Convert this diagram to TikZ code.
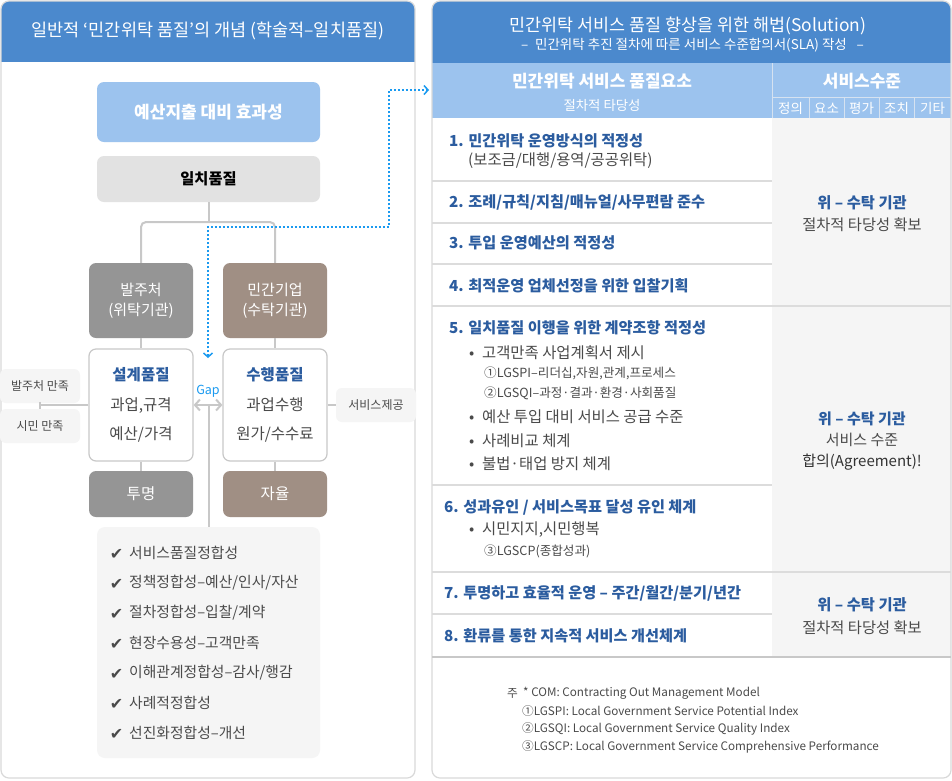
\documentclass[tikz,border=0pt]{standalone}
\usepackage{fontspec}
\setmainfont{Noto Sans CJK KR}
\newfontfamily\dejavu{DejaVu Sans}
\usetikzlibrary{arrows.meta}
\definecolor{hdrblue}{HTML}{4B89CD}
\definecolor{ltblue}{HTML}{9CC3EE}
\definecolor{dkblue}{HTML}{2B5C9F}
\definecolor{gapblue}{HTML}{1A9AF0}
\definecolor{boxgray}{HTML}{959595}
\definecolor{boxbrown}{HTML}{A08F84}
\definecolor{matchgray}{HTML}{E2E2E2}
\definecolor{paleg}{HTML}{F5F5F5}
\definecolor{connc}{HTML}{C8C8C8}
\definecolor{borderc}{HTML}{D9D9D9}
\definecolor{rowc}{HTML}{DCDCDC}
\definecolor{txtc}{HTML}{4A4A4A}
\definecolor{hline}{HTML}{D6E2F0}
\newcommand\fs[2]{\fontsize{#1}{#2}\selectfont}
\begin{document}
\begin{tikzpicture}[x=1pt,y=-1pt,
  box/.style={rounded corners=7, minimum width=104, inner sep=0, align=center},
  conn/.style={draw=connc, line width=2},
  dotc/.style={draw=gapblue, line width=2, dash pattern=on 2pt off 2pt},
  lbl/.style={fill=paleg, rounded corners=6, minimum width=80, minimum height=34, inner sep=0, font=\fs{12}{14}, text=txtc},
  li/.style={anchor=west, inner sep=0, font=\fs{14.8}{17}, text=txtc},
  chk/.style={inner sep=0, font=\dejavu\bfseries\fs{16}{18}, text=txtc},
  hd/.style={anchor=west, inner sep=0, font=\fs{15.2}{18}\bfseries, text=dkblue},
  bt/.style={anchor=west, inner sep=0, font=\fs{15.4}{18}, text=txtc},
  sm/.style={anchor=west, inner sep=0, font=\fs{12.6}{15}, text=txtc},
  gc/.style={inner sep=0, align=center, font=\fs{15.3}{22.5}, text=txtc},
  rowline/.style={draw=rowc, line width=1.2},
  hl/.style={draw=hline, line width=1},
  fn/.style={anchor=west, inner sep=0, font=\fs{11.7}{14}, text=txtc}
]
\useasboundingbox (0,0) rectangle (952,780);
\fill[white] (0,0) rectangle (952,780);

% ---------- left panel ----------
\begin{scope}
\clip[rounded corners=8] (1,1) rectangle (415,778);
\fill[hdrblue] (1,1) rectangle (415,62);
\end{scope}
\draw[draw=borderc, line width=1.2, rounded corners=8] (1,1) rectangle (415,778);
\node[text=white, font=\fs{17.5}{20}, inner sep=0] (lhdr) at (208,31) {일반적 ‘민간위탁 품질’의 개념 (학술적–일치품질)};

\node[box, fill=ltblue, minimum width=223, minimum height=60, font=\fs{17}{20}\bfseries, text=white] (eff) at (208.5,112) {예산지출 대비 효과성};
\node[box, fill=matchgray, minimum width=223, minimum height=46, font=\fs{15.3}{18}\bfseries, text=black] (match) at (208.5,179) {일치품질};

\node[box, fill=boxgray, minimum height=75, font=\fs{15}{20}, text=white] (client) at (141,300.5) {발주처\\(위탁기관)};
\node[box, fill=boxbrown, minimum height=75, font=\fs{15}{20}, text=white] (firm) at (275,300.5) {민간기업\\(수탁기관)};

\node[box, fill=white, draw=connc, line width=1.2, minimum height=112, font=\fs{15.5}{29.5}, text=txtc] (design) at (141,405) {{\color{dkblue}\bfseries 설계품질}\\과업,규격\\예산/가격};
\node[box, fill=white, draw=connc, line width=1.2, minimum height=112, font=\fs{15.5}{29.5}, text=txtc] (perform) at (275,405) {{\color{dkblue}\bfseries 수행품질}\\과업수행\\원가/수수료};

\node[box, fill=boxgray, minimum height=46, font=\fs{15.5}{18}, text=white] (trans) at (141,494) {투명};
\node[box, fill=boxbrown, minimum height=46, font=\fs{15.5}{18}, text=white] (auto) at (275,494) {자율};

\node[lbl] (sat1) at (40,386) {발주처 만족};
\node[lbl] (sat2) at (40,426) {시민 만족};
\node[lbl] (svc) at (376,405) {서비스제공};

\node[inner sep=0, font=\fs{12.5}{14}, text=gapblue] (gap) at (208,391) {Gap};

\node[fill=paleg, rounded corners=8, minimum width=223, minimum height=231, inner sep=0] (list) at (208.5,642.5) {};

% connectors
\coordinate (brk) at (208.5,222);
\coordinate (tick) at (40,405);
\coordinate (gapmid) at (208.5,405);
\draw[conn] (match.south) -- (brk);
\draw[conn, rounded corners=5] (client.north) -- (client.north |- brk) -- (firm.north |- brk) -- (firm.north);
\draw[conn] (client.south) -- (design.north);
\draw[conn] (design.south) -- (trans.north);
\draw[conn] (firm.south) -- (perform.north);
\draw[conn] (perform.south) -- (auto.north);
\draw[conn] (design.west) -- (tick);
\draw[conn] (tick) ++(0,-3.5) -- ++(0,7);
\draw[conn] (perform.east) -- (svc.west);
\draw[conn, {Straight Barb[length=5,width=11]}-{Straight Barb[length=5,width=11]}] (design.east) -- (perform.west);
\draw[conn] (gapmid) -- (list.north);

% dotted link
\coordinate (dotA) at (208,358);
\coordinate (dotB) at (429,90);
\coordinate (dotC) at (389,227);
\draw[dotc, {Straight Barb[length=4,width=9,line width=1.5]}-{Straight Barb[length=4,width=9,line width=1.5]}] (dotA) -- (dotA |- dotC) -- (dotC) -- (dotC |- dotB) -- (dotB);

% checklist
\foreach \t [count=\i] in {서비스품질정합성, 정책정합성–예산/인사/자산, 절차정합성–입찰/계약, 현장수용성–고객만족, 이해관계정합성–감사/행감, 사례적정합성, 선진화정합성–개선} {
  \node[chk] (chk\i) at (116.5,524+30*\i) {✔};
  \node[li] (li\i) at (129,523+30*\i) {\t};
}

% ---------- right panel ----------
\begin{scope}
\clip[rounded corners=8] (432,1) rectangle (951,778);
\fill[hdrblue] (432,1) rectangle (951,63);
\fill[ltblue] (432,63) rectangle (951,118);
\fill[paleg] (772,118) rectangle (951,657);
\end{scope}
\draw[hl] (772,63) -- (772,118);
\draw[hl] (772,97) -- (951,97);
\foreach \xx in {809,844,879,914} { \draw[hl] (\xx,97) -- (\xx,118); }
\draw[draw=borderc, line width=1.2, rounded corners=8] (432,1) rectangle (951,778);

\node[text=white, font=\fs{17.4}{20}, inner sep=0] (rhdr) at (688,26) {민간위탁 서비스 품질 향상을 위한 해법(Solution)};
\node[text=white, font=\fs{13.5}{16}, inner sep=0] (rsub) at (692.5,45) {–\enspace 민간위탁 추진 절차에 따른 서비스 수준합의서(SLA) 작성 \enspace–};

\node[text=white, font=\fs{17}{20}\bfseries, inner sep=0] (qel) at (602,81) {민간위탁 서비스 품질요소};
\node[text=white, font=\fs{13.4}{16}, inner sep=0] (qsub) at (602,105) {절차적 타당성};
\node[text=white, font=\fs{17}{20}\bfseries, inner sep=0] (slv) at (862,81) {서비스수준};
\foreach \t/\xx [count=\i] in {정의/790.5, 요소/826.5, 평가/861.5, 조치/896.5, 기타/932.5} {
  \node[text=white, font=\fs{13.5}{16}, inner sep=0] (sc\i) at (\xx,108) {\t};
}

% row lines
\draw[rowline] (432,181) -- (772,181);
\draw[rowline] (432,223) -- (772,223);
\draw[rowline] (432,264) -- (772,264);
\draw[rowline] (432,306) -- (951,306);
\draw[rowline] (432,485) -- (772,485);
\draw[rowline] (432,572) -- (951,572);
\draw[rowline] (432,614) -- (772,614);
\draw[draw=connc, line width=2] (432,657) -- (951,657);

% items
\node[hd] (h1) at (449,141) {1. 민간위탁 운영방식의 적정성};
\node[bt] (h1b) at (468,161) {(보조금/대행/용역/공공위탁)};
\node[hd] (h2) at (449,202) {2. 조례/규칙/지침/매뉴얼/사무편람 준수};
\node[hd] (h3) at (449,243) {3. 투입 운영예산의 적정성};
\node[hd] (h4) at (449,286) {4. 최적운영 업체선정을 위한 입찰기획};
\node[hd] (h5) at (449,328) {5. 일치품질 이행을 위한 계약조항 적정성};
\node[bt] (b51) at (469,353) {•\enspace 고객만족 사업계획서 제시};
\node[sm] (b51a) at (484,373) {①LGSPI–리더십,자원,관계,프로세스};
\node[sm] (b51b) at (484,393) {②LGSQI–과정·결과·환경·사회품질};
\node[bt] (b52) at (469,417) {•\enspace 예산 투입 대비 서비스 공급 수준};
\node[bt] (b53) at (469,441) {•\enspace 사례비교 체계};
\node[bt] (b54) at (469,464) {•\enspace 불법·태업 방지 체계};
\node[hd] (h6) at (444,507) {6. 성과유인 / 서비스목표 달성 유인 체계};
\node[bt] (b61) at (469,530) {•\enspace 시민지지,시민행복};
\node[sm] (b61a) at (484,551) {③LGSCP(종합성과)};
\node[hd] (h7) at (444,593) {7. 투명하고 효율적 운영 – 주간/월간/분기/년간};
\node[hd] (h8) at (444,636) {8. 환류를 통한 지속적 서비스 개선체계};

% service level column
\node[gc] (g1) at (862,213.5) {{\color{dkblue}\bfseries 위 – 수탁 기관}\\절차적 타당성 확보};
\node[gc, font=\fs{15}{21}] (g2) at (862,441) {{\color{dkblue}\bfseries 위 – 수탁 기관}\\서비스 수준\\{\color{black!80}합의(Agreement)!}};
\node[gc] (g3) at (862,616) {{\color{dkblue}\bfseries 위 – 수탁 기관}\\절차적 타당성 확보};

% footnote
\node[fn] (fz) at (507,693) {주};
\node[fn] (f1) at (523,693) {* COM: Contracting Out Management Model};
\node[fn] (f2) at (522,711) {①LGSPI: Local Government Service Potential Index};
\node[fn] (f3) at (522,729) {②LGSQI: Local Government Service Quality Index};
\node[fn] (f4) at (522,747) {③LGSCP: Local Government Service Comprehensive Performance};
\end{tikzpicture}
\end{document}
